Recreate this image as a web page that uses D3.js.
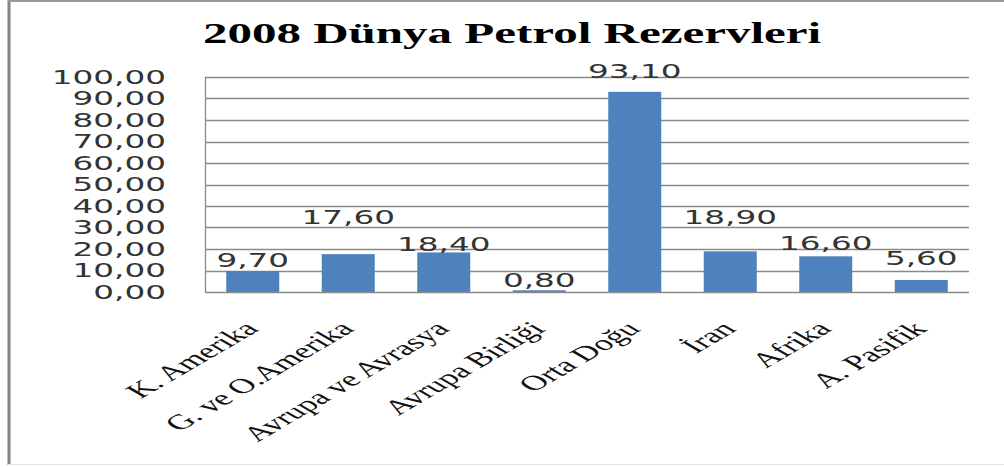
<!DOCTYPE html>
<html>
<head>
<meta charset="utf-8">
<script src="https://cdn.jsdelivr.net/npm/d3@7"></script>
<style>
  body { margin: 0; background: #fff; }
</style>
</head>
<body>
<svg width="1004" height="467"></svg>
<script>
var regions = ["K. Amerika", "G. ve O.Amerika", "Avrupa ve Avrasya", "Avrupa Birliği", "Orta Doğu", "İran", "Afrika", "A. Pasifik"];
var reserves = [9.70, 17.60, 18.40, 0.80, 93.10, 18.90, 16.60, 5.60];
var yTicks = [0, 10, 20, 30, 40, 50, 60, 70, 80, 90, 100];
// value labels were moved by hand in the original, px above the bar
var labelLift = [4, 30, 1, 3, 14, 27, 6, 15];

var svg = d3.select("svg");
var stretch = 1.72; // the whole picture is widened, so text is too
var plotLeft = 205, plotRight = 969, plotTop = 77, plotBottom = 292;

var fmt = function(v) { return v.toFixed(2).replace(".", ","); };

// outer frame
svg.append("line").attr("x1", 9).attr("x2", 9).attr("y1", 0).attr("y2", 465)
  .attr("stroke", "#858585").attr("stroke-width", 3);
svg.append("line").attr("x1", 8).attr("x2", 1004).attr("y1", 1).attr("y2", 1)
  .attr("stroke", "#9a9a9a").attr("stroke-width", 2);
svg.append("line").attr("x1", 8).attr("x2", 1004).attr("y1", 464.5).attr("y2", 464.5)
  .attr("stroke", "#e2e2e2").attr("stroke-width", 1);

svg.append("text")
  .attr("transform", "translate(512,43) scale(" + stretch + ",1)")
  .attr("text-anchor", "middle")
  .attr("font-family", "'Liberation Serif', 'Times New Roman', serif")
  .attr("font-weight", "bold")
  .attr("font-size", "28.5px")
  .text("2008 Dünya Petrol Rezervleri");

var xScale = d3.scaleBand().domain(regions).range([plotLeft, plotRight]).paddingInner(0.445).paddingOuter(0.2225);
var yScale = d3.scaleLinear().domain([0, 100]).range([plotBottom, plotTop]);

// gridlines
svg.append("g")
  .selectAll("line")
  .data(yTicks.slice(1))
  .enter().append("line")
  .attr("x1", plotLeft).attr("x2", plotRight)
  .attr("y1", function(d) { return Math.round(yScale(d)) + 0.5; })
  .attr("y2", function(d) { return Math.round(yScale(d)) + 0.5; })
  .attr("stroke", "#8a8a8a")
  .attr("stroke-width", 1.3);

// y axis labels
var yAxis = svg.append("g")
  .attr("transform", "translate(" + plotLeft + ",0)")
  .call(d3.axisLeft(yScale).tickValues(yTicks).tickFormat(fmt).tickSize(0).tickPadding(0));
yAxis.select(".domain").remove();
yAxis.selectAll("text")
  .attr("x", null)
  .attr("font-family", "'DejaVu Sans', Verdana, sans-serif")
  .attr("font-size", "19px")
  .attr("fill", "#333")
  .attr("transform", "translate(-39,0) scale(" + stretch + ",1)");

// bars
svg.selectAll(".bar")
  .data(reserves)
  .enter().append("rect")
  .attr("class", "bar")
  .attr("x", function(d, i) { return xScale(regions[i]); })
  .attr("y", function(d) { return yScale(d); })
  .attr("width", xScale.bandwidth())
  .attr("height", function(d) { return plotBottom - yScale(d); })
  .attr("fill", "#4f81bd");

// plot area left edge and base line
svg.append("line").attr("x1", plotLeft + 0.5).attr("x2", plotLeft + 0.5).attr("y1", plotTop).attr("y2", plotBottom)
  .attr("stroke", "#8a8a8a").attr("stroke-width", 1.3);
svg.append("line").attr("x1", plotLeft).attr("x2", plotRight).attr("y1", plotBottom + 0.5).attr("y2", plotBottom + 0.5)
  .attr("stroke", "#8a8a8a").attr("stroke-width", 1.3);

// value labels
svg.selectAll(".val")
  .data(reserves)
  .enter().append("text")
  .attr("class", "val")
  .attr("transform", function(d, i) {
    var cx = xScale(regions[i]) + xScale.bandwidth() / 2;
    return "translate(" + cx + "," + (yScale(d) - labelLift[i]) + ") scale(" + stretch + ",1)";
  })
  .attr("text-anchor", "middle")
  .attr("font-family", "'DejaVu Sans', Verdana, sans-serif")
  .attr("font-size", "19px")
  .attr("fill", "#333")
  .text(fmt);

// category labels
svg.selectAll(".cat")
  .data(regions)
  .enter().append("text")
  .attr("class", "cat")
  .attr("transform", function(d) {
    var cx = xScale(d) + xScale.bandwidth() / 2 + 7;
    return "translate(" + cx + ",330) scale(" + stretch + ",1) rotate(-45)";
  })
  .attr("text-anchor", "end")
  .attr("font-family", "'Liberation Serif', 'Times New Roman', serif")
  .attr("font-size", "21px")
  .attr("fill", "#111")
  .text(function(d) { return d; });
</script>
</body>
</html>
